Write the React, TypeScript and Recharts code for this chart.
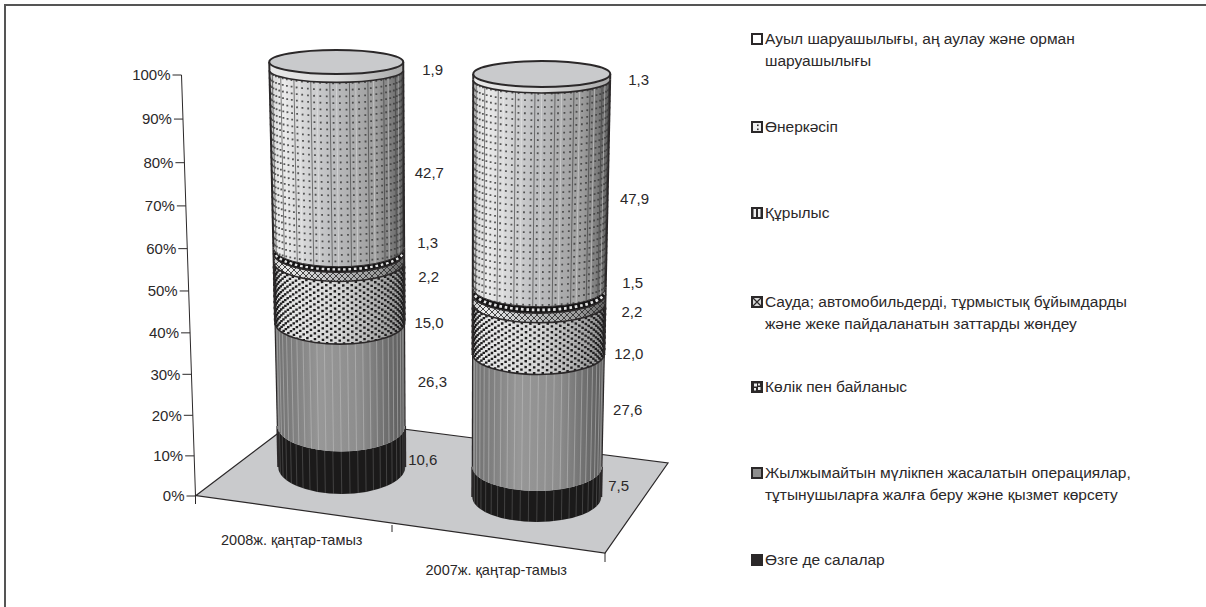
import React from 'react';
import { BarChart, Bar, XAxis, YAxis, Legend, LabelList } from 'recharts';

const categories = ['2008ж. қаңтар-тамыз', '2007ж. қаңтар-тамыз'];
const other = [10.6, 7.5];
const realEstate = [26.3, 27.6];
const transport = [15.0, 12.0];
const trade = [2.2, 2.2];
const construction = [1.3, 1.5];
const industry = [42.7, 47.9];
const agriculture = [1.9, 1.3];
const percentTicks = [0, 10, 20, 30, 40, 50, 60, 70, 80, 90, 100];

const legendNames: Record<string, string[]> = {
  agriculture: ['Ауыл шаруашылығы, аң аулау және орман', 'шаруашылығы'],
  industry: ['Өнеркәсіп'],
  construction: ['Құрылыс'],
  trade: ['Сауда; автомобильдерді, тұрмыстық бұйымдарды', 'және жеке пайдаланатын заттарды жөндеу'],
  transport: ['Көлік пен байланыс'],
  realEstate: ['Жылжымайтын мүлікпен жасалатын операциялар,', 'тұтынушыларға жалға беру және қызмет көрсету'],
  other: ['Өзге де салалар'],
};

const rows = categories.map((name, i) => ({
  name,
  other: other[i],
  realEstate: realEstate[i],
  transport: transport[i],
  trade: trade[i],
  construction: construction[i],
  industry: industry[i],
  agriculture: agriculture[i],
}));

// ---- layout / style below this line ----
const W = 1206;
const H = 607;
const PLOT_TOP = 75;
const PLOT_BOTTOM = 496;
const INK = '#2b2829';
const FONT = '"Liberation Sans", Arial, sans-serif';

// y scale with the foreshortening of the original 3-D view
function depthScale(domain: number[] = [0, 100], range: number[] = [PLOT_BOTTOM, PLOT_TOP]) {
  let d = domain;
  let r = range;
  const s: any = (v: number) => {
    const f = (v - d[0]) / (d[1] - d[0]);
    const g = f * (0.948 + 0.052 * f);
    return r[0] + (r[1] - r[0]) * g;
  };
  s.domain = (x?: number[]) => (x ? ((d = x), s) : d);
  s.range = (x?: number[]) => (x ? ((r = x), s) : r);
  s.ticks = () => percentTicks;
  s.tickFormat = () => (v: number) => String(v);
  s.copy = () => depthScale(d, r);
  return s;
}

// per-cylinder view parameters, relative to the band centre and bar width
const views = [
  { leanB: 4.75, leanT: -0.75, wB: 0.962, wT: 1.015, frontB: 494, frontT: 74, ryB: 27, ryT: 12 },
  { leanB: -5.75, leanT: -0.75, wB: 0.977, wT: 1.038, frontB: 522, frontT: 87, ryB: 25, ryT: 13 },
];

const labelNudge: Record<string, number[][]> = {
  other: [[3, -13], [6.7, -20.5]],
  realEstate: [[13, -16], [10, -22.7]],
  transport: [[10, 10], [9.4, 4.5]],
  trade: [[14, 0], [16, -6.8]],
  construction: [[13, -26.5], [16.6, -27]],
  industry: [[11, -2], [12, -1]],
  agriculture: [[19, -9], [18, -10]],
};

const lerp = (a: number, b: number, t: number) => a + (b - a) * t;

function ring(index: number, band: number, width: number, y: number) {
  const v = views[index];
  const t = (PLOT_BOTTOM - y) / (PLOT_BOTTOM - PLOT_TOP);
  const front = lerp(v.frontB, v.frontT, t);
  const ry = lerp(v.ryB, v.ryT, t);
  return {
    cx: band + lerp(v.leanB, v.leanT, t),
    hw: (width / 2) * lerp(v.wB, v.wT, t),
    ry,
    cy: front - ry,
    front,
  };
}

type Ring = ReturnType<typeof ring>;

const bodyPath = (a: Ring, b: Ring) =>
  `M${a.cx - a.hw},${a.cy} A${a.hw},${a.ry} 0 0 0 ${a.cx + a.hw},${a.cy} L${b.cx + b.hw},${b.cy} A${b.hw},${b.ry} 0 0 1 ${b.cx - b.hw},${b.cy} Z`;
const arcPath = (a: Ring) => `M${a.cx - a.hw},${a.cy} A${a.hw},${a.ry} 0 0 0 ${a.cx + a.hw},${a.cy}`;

function meridians(a: Ring, b: Ring, n: number, style: (k: number) => any) {
  const out: any[] = [];
  for (let k = 1; k < n; k++) {
    const th = -Math.PI / 2 + (Math.PI * k) / n;
    const s = style(k);
    if (!s) continue;
    out.push(
      <line
        key={k}
        x1={a.cx + a.hw * Math.sin(th)}
        y1={a.cy + a.ry * Math.cos(th)}
        x2={b.cx + b.hw * Math.sin(th)}
        y2={b.cy + b.ry * Math.cos(th)}
        {...s}
      />,
    );
  }
  return out;
}

type Look = 'ring' | 'dots' | 'film' | 'hatch' | 'dither' | 'gray' | 'black';

const makeShape = (look: Look) => (props: any) => {
  const { x, y, width, height, index } = props;
  const band = x + width / 2;
  const a = ring(index, band, width, y);
  const b = ring(index, band, width, y + height);
  const d = bodyPath(a, b);
  const mid = ring(index, band, width, y + height / 2);
  return (
    <g>
      {look === 'ring' && <path d={d} fill="url(#gRing)" />}
      {look === 'dots' && (
        <>
          <path d={d} fill="url(#gLight)" />
          {meridians(a, b, 64, (k) => {
            if (k % 2 === 1) return { stroke: '#3d3d3d', strokeWidth: 1.8, strokeDasharray: '1.8 4.8', strokeOpacity: 0.85 };
            if (k % 6 === 0) return { stroke: '#3a3a3a', strokeWidth: 0.8, strokeOpacity: 0.8 };
            if (k % 6 === 2) return { stroke: '#f2f2f2', strokeWidth: 0.7, strokeOpacity: 0.6 };
            return null;
          })}
        </>
      )}
      {look === 'film' && (
        <>
          <path d={d} fill="#141314" />
          <path d={arcPath(mid)} fill="none" stroke="#e4e4e4" strokeWidth={Math.max(2, (b.front - a.front) * 0.42)} strokeDasharray="2.6 2.8" />
        </>
      )}
      {look === 'hatch' && (
        <>
          <path d={d} fill="url(#gLight)" />
          <path d={d} fill="url(#pHatch)" />
        </>
      )}
      {look === 'dither' && (
        <>
          <path d={d} fill="url(#gDither)" />
          {meridians(a, b, 48, (k) => ({
            stroke: '#1f1e1f',
            strokeWidth: 2.5,
            strokeDasharray: '2.3 3.5',
            strokeDashoffset: k % 2 === 0 ? 0 : 2.9,
          }))}
        </>
      )}
      {look === 'gray' && (
        <>
          <path d={d} fill="url(#gGray)" />
          {meridians(a, b, 26, () => ({ stroke: '#c4c4c4', strokeWidth: 0.8, strokeOpacity: 0.65 }))}
        </>
      )}
      {look === 'black' && (
        <>
          <path d={d} fill="#1b1a1a" />
          {meridians(a, b, 24, () => ({ stroke: '#8d8d8d', strokeWidth: 0.7, strokeOpacity: 0.5 }))}
        </>
      )}
      <line x1={a.cx - a.hw} y1={a.cy} x2={b.cx - b.hw} y2={b.cy} stroke={INK} strokeWidth={look === 'gray' ? 1.2 : 2} />
      <line x1={a.cx + a.hw} y1={a.cy} x2={b.cx + b.hw} y2={b.cy} stroke={INK} strokeWidth={look === 'gray' ? 1.2 : 2} />
      {look !== 'gray' && look !== 'black' && look !== 'ring' && <path d={arcPath(b)} fill="none" stroke={INK} strokeWidth={look === 'dots' ? 1 : 1.6} />}
      {look === 'ring' && (
        <>
          <path d={arcPath(b)} fill="none" stroke={INK} strokeWidth={1.6} />
          <ellipse cx={a.cx} cy={a.cy} rx={a.hw} ry={a.ry} fill="#c9cacc" stroke={INK} strokeWidth={2} />
        </>
      )}
    </g>
  );
};

const makeLabel = (key: string) => (props: any) => {
  const { x, y, width, height, value, index } = props;
  const band = x + width / 2;
  const m = ring(index, band, width, y + height / 2);
  const [dx, dy] = labelNudge[key][index];
  return (
    <text x={m.cx + m.hw + dx} y={m.front + dy} dy="0.36em" fontSize={15} fontFamily={FONT} fill={INK}>
      {Number(value).toFixed(1).replace('.', ',')}
    </text>
  );
};

const axisX = (y: number) => 195.5 - (14 * (PLOT_BOTTOM - y)) / (PLOT_BOTTOM - PLOT_TOP);

const YTick = (props: any) => {
  const { y, payload } = props;
  const x = axisX(y);
  return (
    <g>
      <line x1={x - 9} y1={y} x2={x} y2={y} stroke={INK} strokeWidth={1} />
      <text x={x - 11} y={y} dy="0.36em" textAnchor="end" fontSize={15} fontFamily={FONT} fill={INK}>
        {payload.value}%
      </text>
    </g>
  );
};

const tickShift = [
  { dx: -45, y: 540 },
  { dx: -46, y: 570 },
];

const XTick = (props: any) => {
  const { x, payload, index } = props;
  const s = tickShift[index] || tickShift[0];
  return (
    <text x={x + s.dx} y={s.y} dy="0.36em" textAnchor="middle" fontSize={14.5} fontFamily={FONT} fill={INK}>
      {payload.value}
    </text>
  );
};

const swatches: Record<string, React.ReactNode> = {
  agriculture: <rect x={1} y={1} width={10} height={10} fill="#fff" stroke={INK} strokeWidth={2} />,
  industry: (
    <>
      <rect x={1} y={1} width={10} height={10} fill="#efefef" stroke={INK} strokeWidth={2} />
      <rect x={6} y={3.5} width={1.6} height={1.6} fill={INK} />
      <rect x={6} y={7.5} width={1.6} height={1.6} fill={INK} />
    </>
  ),
  construction: (
    <>
      <rect x={0} y={0} width={12} height={12} fill={INK} />
      <rect x={2.5} y={2} width={2.5} height={8} fill="#eee" />
      <rect x={7} y={2} width={2.5} height={8} fill="#eee" />
    </>
  ),
  trade: (
    <>
      <rect x={1} y={1} width={10} height={10} fill="#d8d8d8" stroke={INK} strokeWidth={2} />
      <path d="M2,2 L10,10 M10,2 L2,10" stroke={INK} strokeWidth={1.2} />
    </>
  ),
  transport: (
    <>
      <rect x={0} y={0} width={12} height={12} fill={INK} />
      <path d="M3,2.5 h3 v3 h-3 z M7,6 h2.5 v3 h-2.5 z M3,7 h2 v2.5 h-2 z M7,2.5 h2 v2 h-2 z" fill="#eee" />
    </>
  ),
  realEstate: <rect x={1} y={1} width={10} height={10} fill="#8e8e8e" stroke={INK} strokeWidth={2} />,
  other: <rect x={0} y={0} width={12} height={12} fill={INK} />,
};

const legendOrder = ['agriculture', 'industry', 'construction', 'trade', 'transport', 'realEstate', 'other'];
const legendRowTop: Record<string, number> = {
  agriculture: 0,
  industry: 88,
  construction: 174,
  trade: 263,
  transport: 348,
  realEstate: 434,
  other: 521,
};

const renderLegend = () => (
  <div style={{ position: 'relative', width: 440, height: 540, fontFamily: FONT, fontSize: 15.5, lineHeight: '21.5px', color: INK }}>
    {legendOrder.map((key) => (
      <div key={key} style={{ position: 'absolute', left: 0, top: legendRowTop[key], whiteSpace: 'nowrap' }}>
        <svg width={12} height={12} style={{ position: 'absolute', left: 0, top: 5 }}>
          {swatches[key]}
        </svg>
        <div style={{ marginLeft: 14 }}>
          {legendNames[key].map((line) => (
            <div key={line}>{line}</div>
          ))}
        </div>
      </div>
    ))}
  </div>
);

const SERIES: [string, Look][] = [
  ['other', 'black'],
  ['realEstate', 'gray'],
  ['transport', 'dither'],
  ['trade', 'hatch'],
  ['construction', 'film'],
  ['industry', 'dots'],
  ['agriculture', 'ring'],
];

export default function App() {
  return (
    <div style={{ position: 'absolute', left: 0, top: 0, width: W, height: H, background: '#fff', overflow: 'hidden' }}>
      <div style={{ position: 'absolute', left: 4, top: 4, width: W - 4, height: 2, background: '#555' }} />
      <div style={{ position: 'absolute', left: 4, top: 4, width: 2, height: H - 4, background: '#555' }} />
      <BarChart
        width={W}
        height={H}
        data={rows}
        barSize={132}
        barCategoryGap={0}
        margin={{ top: PLOT_TOP, bottom: H - PLOT_BOTTOM - 10, left: 0, right: W - 645 }}
      >
        <defs>
          <linearGradient id="gLight" x1="0" x2="1" y1="0" y2="0">
            <stop offset="0" stopColor="#c4c4c4" />
            <stop offset="0.08" stopColor="#ececec" />
            <stop offset="0.45" stopColor="#bebfc1" />
            <stop offset="0.8" stopColor="#9c9c9c" />
            <stop offset="1" stopColor="#606060" />
          </linearGradient>
          <linearGradient id="gRing" x1="0" x2="1" y1="0" y2="0">
            <stop offset="0" stopColor="#e8e8e8" />
            <stop offset="0.5" stopColor="#dcdcdc" />
            <stop offset="1" stopColor="#a8a8a8" />
          </linearGradient>
          <linearGradient id="gDither" x1="0" x2="1" y1="0" y2="0">
            <stop offset="0" stopColor="#ececec" />
            <stop offset="0.5" stopColor="#d6d6d6" />
            <stop offset="1" stopColor="#909090" />
          </linearGradient>
          <linearGradient id="gGray" x1="0" x2="1" y1="0" y2="0">
            <stop offset="0" stopColor="#6f6f6f" />
            <stop offset="0.35" stopColor="#979797" />
            <stop offset="0.65" stopColor="#8d8d8d" />
            <stop offset="1" stopColor="#5a5a5a" />
          </linearGradient>
          <pattern id="pHatch" width="6" height="6" patternUnits="userSpaceOnUse">
            <path d="M0,0 L6,6 M6,0 L0,6" stroke="#333" strokeWidth="0.9" />
          </pattern>
        </defs>
        <polygon points="196,495.5 301,416 668,463 605,553" fill="#c9cacc" stroke={INK} strokeWidth={1.2} />
        <line x1={181.5} y1={PLOT_TOP} x2={195.5} y2={PLOT_BOTTOM} stroke={INK} strokeWidth={1} />
        <line x1={195.5} y1={495} x2={195.5} y2={504} stroke={INK} strokeWidth={1} />
        <line x1={392} y1={525} x2={392} y2={532} stroke={INK} strokeWidth={1} />
        <line x1={605} y1={553} x2={605} y2={562} stroke={INK} strokeWidth={1} />
        <XAxis dataKey="name" height={10} axisLine={false} tickLine={false} tick={<XTick />} interval={0} />
        <YAxis
          width={234}
          domain={[0, 100]}
          ticks={percentTicks}
          scale={depthScale() as any}
          axisLine={false}
          tickLine={false}
          tick={<YTick />}
          interval={0}
        />
        <Legend
          layout="horizontal"
          verticalAlign="middle"
          align="center"
          content={renderLegend}
          wrapperStyle={{ left: 751, top: 28, width: 440, height: 540 }}
        />
        {SERIES.map(([key, look]) => (
          <Bar key={key} dataKey={key} stackId="a" isAnimationActive={false} shape={makeShape(look)}>
            <LabelList dataKey={key} content={makeLabel(key)} />
          </Bar>
        ))}
      </BarChart>
    </div>
  );
}
